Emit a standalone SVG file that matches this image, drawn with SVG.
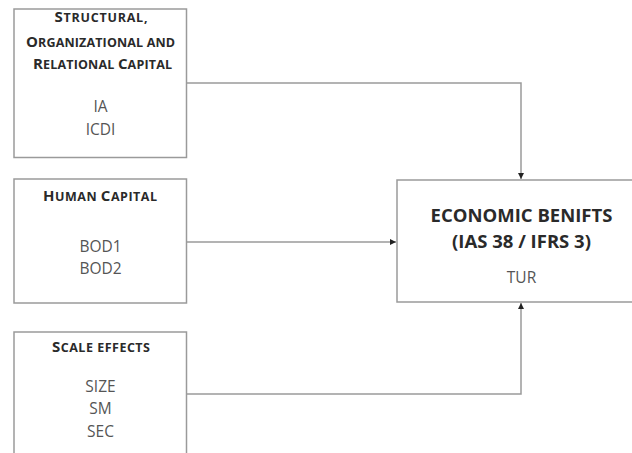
<svg xmlns="http://www.w3.org/2000/svg" width="632" height="453" viewBox="0 0 632 453">
<defs>
<style>
.box{fill:#fff;stroke:#9a9a9a;stroke-width:1.5}
.hd{font-family:"Open Sans","Liberation Sans",sans-serif;font-weight:bold;fill:#2a2a2a;text-anchor:middle;font-size:12.5px}
.hd .c{font-size:15px}
.tx{font-family:"Open Sans","Liberation Sans",sans-serif;fill:#555;text-anchor:middle;font-size:15.5px}
.big{font-family:"Open Sans","Liberation Sans",sans-serif;font-weight:bold;fill:#2a2a2a;text-anchor:middle;font-size:18.5px}
.ln{fill:none;stroke:#9a9a9a;stroke-width:1.5}
</style>
<marker id="ah" viewBox="0 0 10 10" refX="10" refY="5" markerWidth="4" markerHeight="4" orient="auto" markerUnits="strokeWidth">
<path d="M0,0 L10,5 L0,10 z" fill="#222"/>
</marker>
</defs>
<rect width="632" height="453" fill="#fff"/>
<g id="structural">
<rect class="box" x="14" y="9" width="172.5" height="148.5"/>
<text class="hd" x="101" y="22" textLength="93" lengthAdjust="spacing"><tspan class="c">S</tspan>TRUCTURAL,</text>
<text class="hd" x="100.5" y="46.5" textLength="149" lengthAdjust="spacing"><tspan class="c">O</tspan>RGANIZATIONAL AND</text>
<text class="hd" x="102.5" y="68.5" textLength="139" lengthAdjust="spacing"><tspan class="c">R</tspan>ELATIONAL <tspan class="c">C</tspan>APITAL</text>
<text class="tx" x="100.5" y="112">IA</text>
<text class="tx" x="100.5" y="135">ICDI</text>
</g>
<g id="human">
<rect class="box" x="14" y="179" width="172.5" height="124"/>
<text class="hd" x="100" y="201" textLength="114" lengthAdjust="spacing"><tspan class="c">H</tspan>UMAN <tspan class="c">C</tspan>APITAL</text>
<text class="tx" x="100.5" y="252">BOD1</text>
<text class="tx" x="100.5" y="274">BOD2</text>
</g>
<g id="scale">
<rect class="box" x="14" y="332" width="172.5" height="140"/>
<text class="hd" x="101" y="352" textLength="98" lengthAdjust="spacing"><tspan class="c">S</tspan>CALE EFFECTS</text>
<text class="tx" x="100.5" y="392">SIZE</text>
<text class="tx" x="100.5" y="414">SM</text>
<text class="tx" x="100.5" y="437">SEC</text>
</g>
<g id="economic">
<rect class="box" x="397" y="180" width="260" height="122"/>
<text class="big" x="521.5" y="222">ECONOMIC BENIFTS</text>
<text class="big" x="521.5" y="248">(IAS 38 / IFRS 3)</text>
<text class="tx" x="521.5" y="283">TUR</text>
</g>
<g id="connectors">
<path class="ln" d="M186.5,83 H521 V179" marker-end="url(#ah)"/>
<path class="ln" d="M186.5,242 H396" marker-end="url(#ah)"/>
<path class="ln" d="M186.5,394 H521 V303" marker-end="url(#ah)"/>
</g>
</svg>
